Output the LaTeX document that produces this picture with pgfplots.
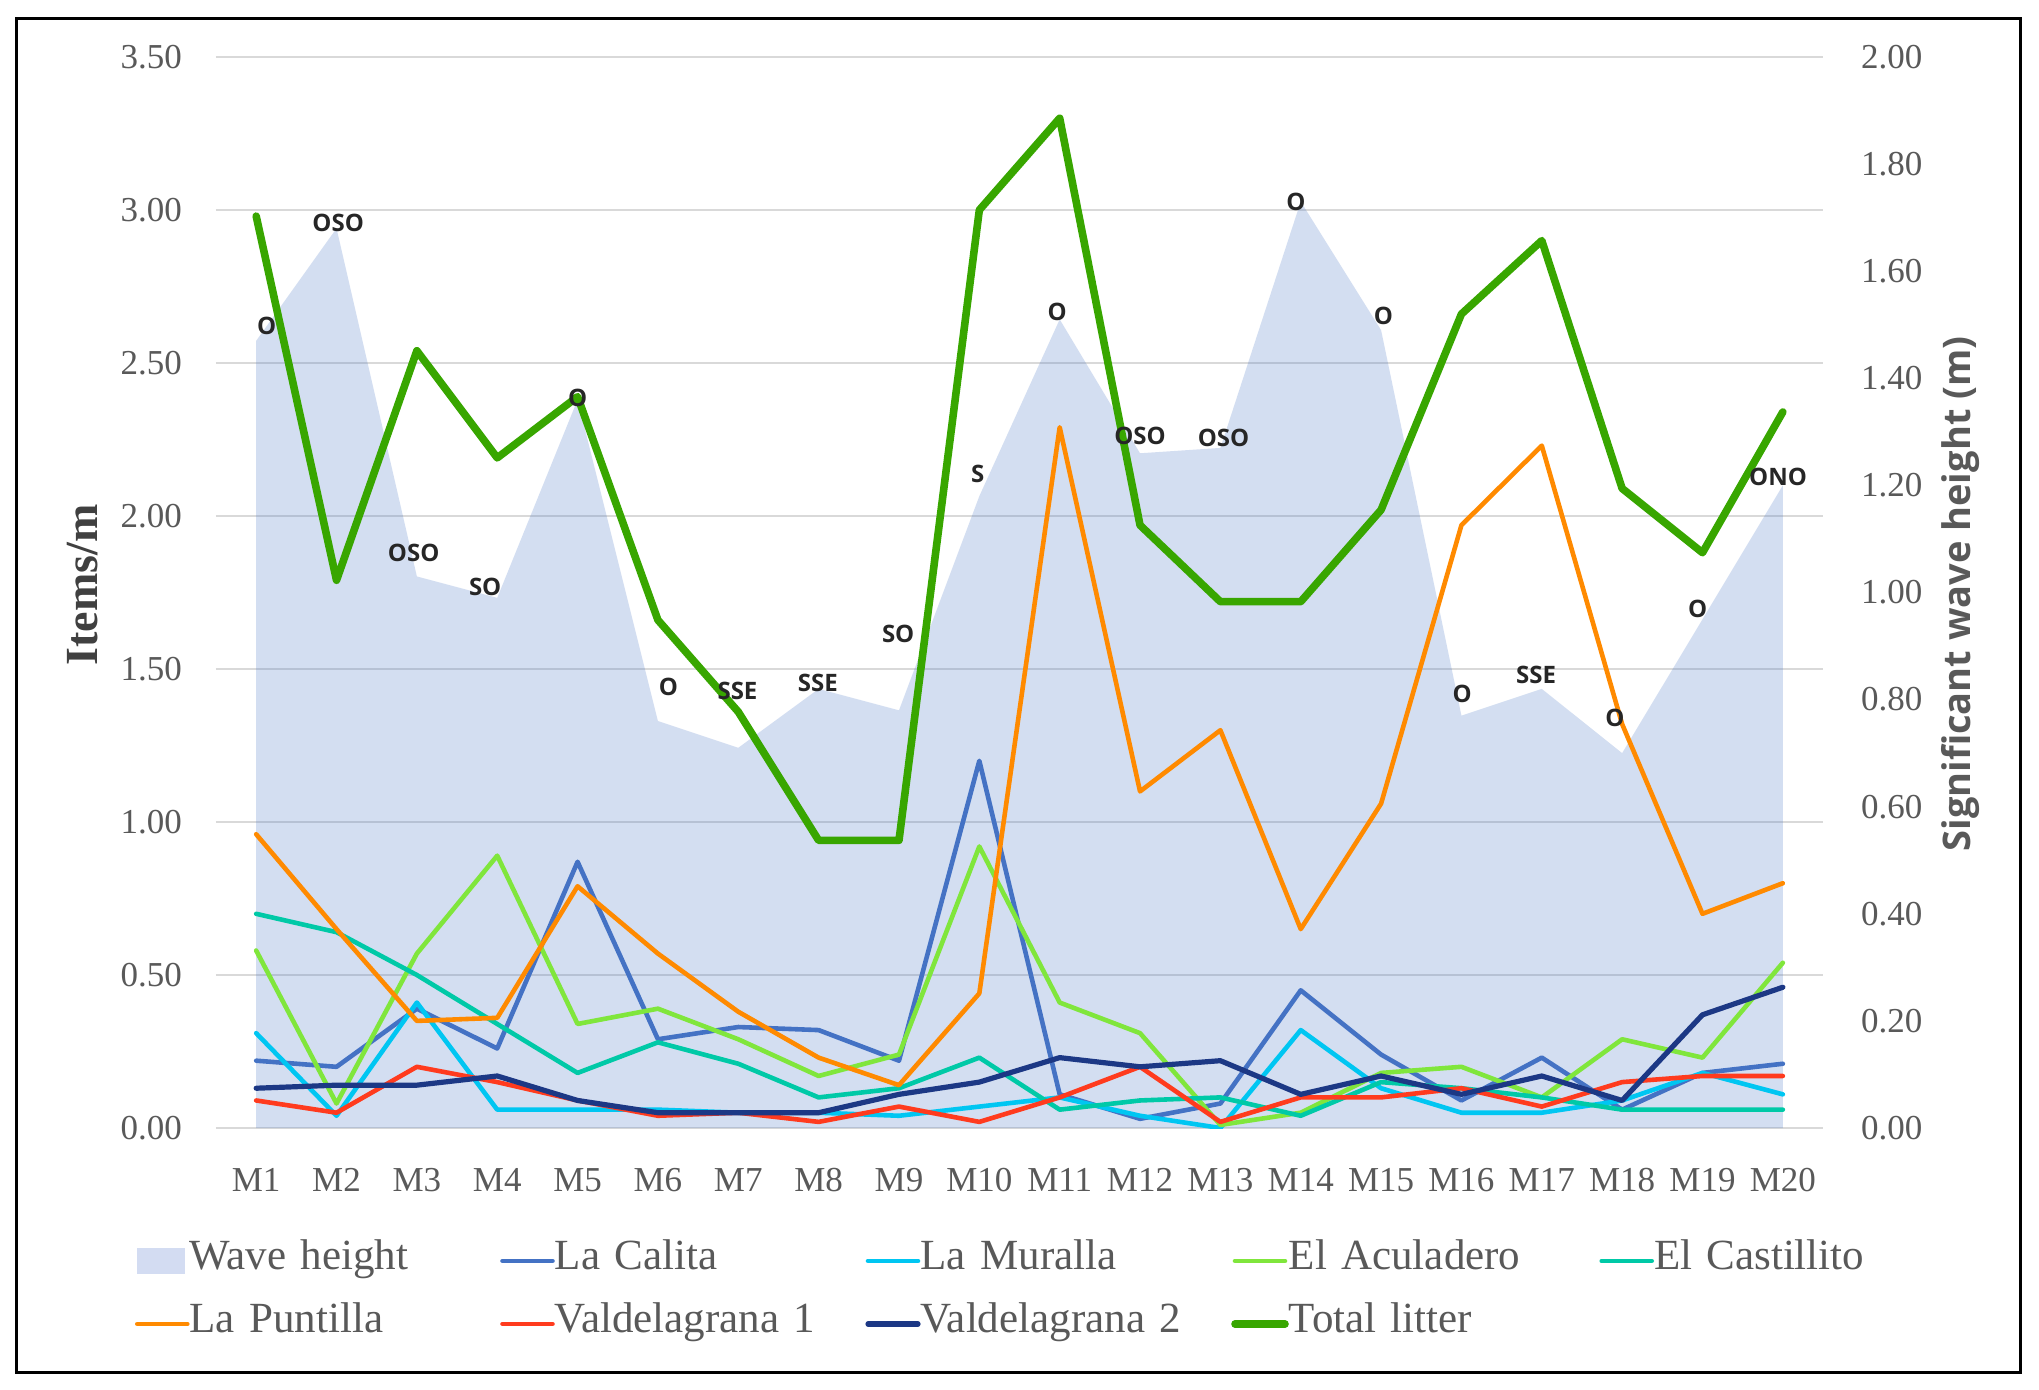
\documentclass[border=0pt]{standalone}
\usepackage{fontspec}
\setmainfont{Liberation Serif}
\newfontfamily\osans{Open Sans}
\usepackage{pgfplots}
\usepackage{pgfplotstable}
\pgfplotsset{compat=1.18}

\definecolor{calita}{HTML}{4472C4}
\definecolor{muralla}{HTML}{00C6F2}
\definecolor{aculadero}{HTML}{80E63C}
\definecolor{castillito}{HTML}{00C9A7}
\definecolor{puntilla}{HTML}{FF8A00}
\definecolor{valdeuno}{HTML}{FF3B1E}
\definecolor{valdedos}{HTML}{1C3885}
\definecolor{totalc}{HTML}{38A600}
\definecolor{tickgray}{HTML}{595959}
\definecolor{titlegray}{HTML}{404040}
\definecolor{gridgray}{HTML}{D9D9D9}
\definecolor{labgray}{HTML}{262626}
\definecolor{wavefill}{HTML}{D3DCF2}

\pgfplotstableread{
x wave calita muralla acul cast punt vuno vdos total
1 1.47 0.22 0.31 0.58 0.70 0.96 0.09 0.13 2.98
2 1.68 0.20 0.04 0.08 0.64 0.65 0.05 0.14 1.79
3 1.03 0.39 0.41 0.57 0.50 0.35 0.20 0.14 2.54
4 0.99 0.26 0.06 0.89 0.34 0.36 0.15 0.17 2.19
5 1.36 0.87 0.06 0.34 0.18 0.79 0.09 0.09 2.39
6 0.76 0.29 0.06 0.39 0.28 0.57 0.04 0.05 1.66
7 0.71 0.33 0.05 0.29 0.21 0.38 0.05 0.05 1.36
8 0.82 0.32 0.05 0.17 0.10 0.23 0.02 0.05 0.94
9 0.78 0.22 0.04 0.24 0.13 0.14 0.07 0.11 0.94
10 1.18 1.20 0.07 0.92 0.23 0.44 0.02 0.15 3.00
11 1.51 0.11 0.10 0.41 0.06 2.29 0.10 0.23 3.30
12 1.26 0.03 0.04 0.31 0.09 1.10 0.20 0.20 1.97
13 1.27 0.08 0.00 0.01 0.10 1.30 0.02 0.22 1.72
14 1.73 0.45 0.32 0.05 0.04 0.65 0.10 0.11 1.72
15 1.49 0.24 0.13 0.18 0.15 1.06 0.10 0.17 2.02
16 0.77 0.09 0.05 0.20 0.13 1.97 0.13 0.11 2.66
17 0.82 0.23 0.05 0.10 0.10 2.23 0.07 0.17 2.90
18 0.70 0.06 0.09 0.29 0.06 1.32 0.15 0.09 2.09
19 0.95 0.18 0.18 0.23 0.06 0.70 0.17 0.37 1.88
20 1.20 0.21 0.11 0.54 0.06 0.80 0.17 0.46 2.34
}\datatable

\pgfplotstableread{
x y lab
1.13 1.497 O
2.02 1.691 OSO
2.96 1.074 OSO
3.85 1.011 SO
5.00 1.363 O
6.13 0.824 O
6.99 0.816 SSE
7.99 0.832 SSE
8.99 0.922 SO
9.98 1.222 S
10.97 1.524 O
12.00 1.293 OSO
13.04 1.288 OSO
13.94 1.730 O
15.03 1.516 O
16.01 0.810 O
16.93 0.846 SSE
17.91 0.765 O
18.94 0.970 O
19.94 1.216 ONO
}\labtable

\pgfplotsset{
  base/.style={
    width=803.5pt, height=535.5pt, scale only axis,
    at={(108pt,130.5pt)}, anchor=south west,
    xmin=0.5, xmax=20.5,
    axis line style={draw=none},
    major tick length=0pt,
    /pgf/number format/assume math mode=true,
  },
}

\begin{document}
\begin{tikzpicture}
\useasboundingbox (0,0) rectangle (1019.5pt,694.5pt);
\fill[white] (0,0) rectangle (1019.5pt,694.5pt);

% Axis A: left axis, grid, x tick labels
\begin{axis}[base,
  ymin=0, ymax=3.5,
  ytick={0,0.5,1,1.5,2,2.5,3,3.5},
  yticklabel={\pgfmathprintnumber[fixed,fixed zerofill,precision=2]{\tick}},
  ymajorgrids, grid style={gridgray, line width=0.7pt},
  xtick={1,...,20},
  xticklabels={M1,M2,M3,M4,M5,M6,M7,M8,M9,M10,M11,M12,M13,M14,M15,M16,M17,M18,M19,M20},
  tick label style={font=\fontsize{17.5}{20}\selectfont, text=tickgray},
  xticklabel style={anchor=base, yshift=-31.5pt},
  yticklabel style={anchor=east, xshift=-13.5pt},
  ylabel={\textbf{Items/m}},
  ylabel style={at={(axis description cs:-0.0828,0.507)}, anchor=center, font=\fontsize{23}{26}\selectfont, text=titlegray},
]
\addplot[draw=none, forget plot] coordinates {(1,0)};
\end{axis}

% Axis B: right axis, wave height area
\begin{axis}[base,
  ymin=0, ymax=2,
  axis y line*=right, hide x axis,
  ytick={0,0.2,0.4,0.6,0.8,1,1.2,1.4,1.6,1.8,2},
  yticklabel={\pgfmathprintnumber[fixed,fixed zerofill,precision=2]{\tick}},
  tick label style={font=\fontsize{17.5}{20}\selectfont, text=tickgray},
  yticklabel style={anchor=west, xshift=15.5pt},
  ylabel={\osans\bfseries Significant wave height (m)},
  ylabel style={at={(axis description cs:1.0853,0.4986)}, anchor=center, rotate=0, font=\fontsize{19}{22}\selectfont, text=tickgray},
]
\addplot[fill=calita, fill opacity=0.23, draw=none] table[x=x, y=wave] {\datatable} \closedcycle;
\end{axis}

% Axis C: litter lines and legend
\begin{axis}[base,
  ymin=0, ymax=3.5, hide axis,
  legend columns=5,
  legend cell align=left,
  legend image code/.code={\draw[#1] (0pt,0pt) -- (25pt,0pt);},
  legend style={draw=none, fill=none,
    at={(axis description cs:-0.0504,-0.1008)}, anchor=north west,
    inner sep=0pt, outer sep=0pt,
    font=\fontsize{21.5}{25}\selectfont, text=tickgray,
    nodes={inner xsep=0pt, xshift=-1pt, inner ysep=3pt, text width=155.3pt, text height=14pt, text depth=5pt, align=left},
    row sep=6.5pt,
    /tikz/every even column/.append style={column sep=0pt},
    /tikz/every odd column/.append style={column sep=0pt}},
  every axis plot/.append style={line join=round, line cap=round},
]
\addlegendimage{draw=none,
  legend image code/.code={\fill[wavefill] (0pt,-6.5pt) rectangle (24pt,6.5pt);}}
\addlegendentry{Wave height}
\addplot[calita, line width=2.3pt] table[x=x, y=calita] {\datatable};
\addlegendentry{La Calita}
\addplot[muralla, line width=2.3pt] table[x=x, y=muralla] {\datatable};
\addlegendentry{La Muralla}
\addplot[aculadero, line width=2.3pt] table[x=x, y=acul] {\datatable};
\addlegendentry{El Aculadero}
\addplot[castillito, line width=2.3pt] table[x=x, y=cast] {\datatable};
\addlegendentry{El Castillito}
\addplot[puntilla, line width=2.3pt] table[x=x, y=punt] {\datatable};
\addlegendentry{La Puntilla}
\addplot[valdeuno, line width=2.3pt] table[x=x, y=vuno] {\datatable};
\addlegendentry{Valdelagrana 1}
\addplot[valdedos, line width=2.6pt] table[x=x, y=vdos] {\datatable};
\addlegendentry{Valdelagrana 2}
\addplot[totalc, line width=3.8pt] table[x=x, y=total] {\datatable};
\addlegendentry{Total litter}
\end{axis}

% Axis D: wind direction labels
\begin{axis}[base, ymin=0, ymax=2, hide axis]
\addplot[only marks, mark=none, nodes near coords, point meta=explicit symbolic,
  nodes near coords align=center,
  every node near coord/.append style={font=\osans\bfseries\fontsize{12}{14}\selectfont, text=labgray, inner sep=0pt, anchor=center}]
  table[x=x, y=y, meta=lab] {\labtable};
\end{axis}

\draw[line width=1.5pt] (8pt,8.5pt) rectangle (1010pt,685pt);
\end{tikzpicture}
\end{document}
